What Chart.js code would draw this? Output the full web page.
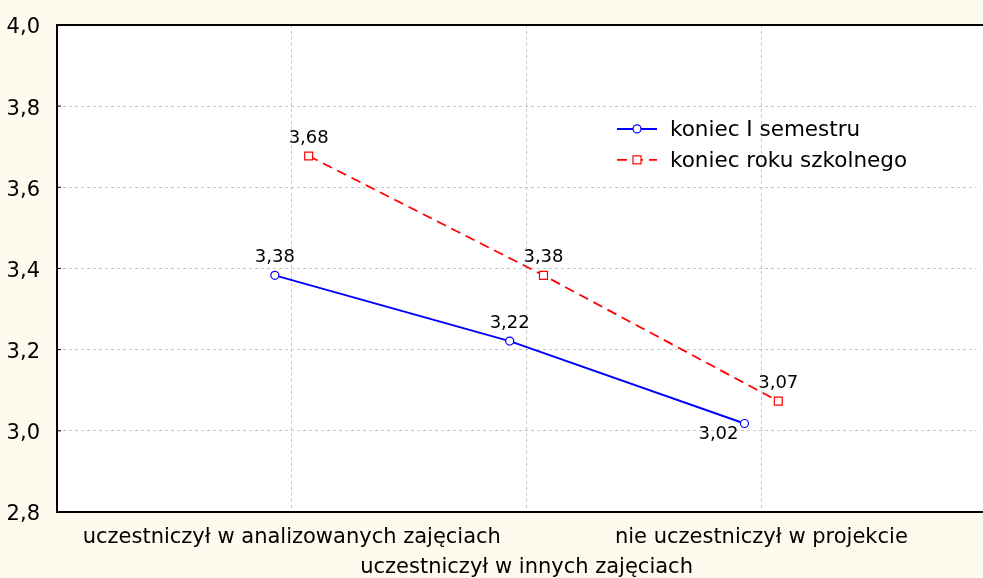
<!DOCTYPE html>
<html>
<head>
<meta charset="utf-8">
<script src="https://cdn.jsdelivr.net/npm/chart.js@4/dist/chart.umd.min.js"></script>
<style>
  html, body { margin: 0; padding: 0; background: #fffaee; }
  #wrap { width: 983px; height: 578px; }
</style>
</head>
<body>
<div id="wrap"><canvas id="chart" width="983" height="578"></canvas></div>
<script>
// data
const categories = ['uczestniczył w analizowanych zajęciach', 'uczestniczył w innych zajęciach', 'nie uczestniczył w projekcie'];
const seriesNames = ['koniec I semestru', 'koniec roku szkolnego'];
const semester = [3.383, 3.221, 3.018];
const yearEnd = [3.677, 3.383, 3.073];
const yTicks = [2.8, 3.0, 3.2, 3.4, 3.6, 3.8, 4.0];

const shift = 0.072; // the two series are drawn a little apart around each category
const fmt = v => v.toFixed(2).replace('.', ',');
const FONT = "'DejaVu Sans', Verdana, sans-serif";

function toPoints(vals, dx) {
  return vals.map((v, i) => ({ x: i + 1 + dx, y: v }));
}

const bgPlugin = {
  id: 'bg',
  beforeDraw(chart) {
    const { ctx, chartArea: a } = chart;
    ctx.save();
    ctx.fillStyle = '#fffaee';
    ctx.fillRect(0, 0, chart.width, chart.height);
    ctx.fillStyle = '#ffffff';
    ctx.fillRect(a.left, a.top, chart.width - a.left, a.bottom - a.top);
    ctx.restore();
  },
  afterDraw(chart) {
    const { ctx, chartArea: a } = chart;
    ctx.save();
    ctx.strokeStyle = '#000';
    ctx.lineWidth = 2;
    ctx.beginPath();
    ctx.moveTo(chart.width + 2, a.top);
    ctx.lineTo(a.left, a.top);
    ctx.lineTo(a.left, a.bottom);
    ctx.lineTo(chart.width + 2, a.bottom);
    ctx.stroke();
    // small inward tick marks on the value axis
    ctx.lineWidth = 1;
    const ys = chart.scales.y;
    yTicks.forEach(t => {
      const py = ys.getPixelForValue(t);
      ctx.beginPath();
      ctx.moveTo(a.left, py);
      ctx.lineTo(a.left + 4, py);
      ctx.stroke();
    });
    ctx.restore();
  }
};

// value labels next to the points
const labelPlugin = {
  id: 'vals',
  afterDatasetsDraw(chart) {
    const { ctx } = chart;
    ctx.save();
    ctx.font = '18px ' + FONT;
    ctx.fillStyle = '#000';
    ctx.textAlign = 'center';
    ctx.textBaseline = 'middle';
    chart.data.datasets.forEach((ds, di) => {
      chart.getDatasetMeta(di).data.forEach((pt, i) => {
        const v = ds.data[i].y;
        const below = ds.labelBelow && ds.labelBelow[i];
        if (below) ctx.fillText(fmt(v), pt.x - 26, pt.y + 11);
        else ctx.fillText(fmt(v), pt.x, pt.y - 18);
      });
    });
    ctx.restore();
  }
};

// legend inside the plot
const legendPlugin = {
  id: 'innerLegend',
  afterDraw(chart) {
    const { ctx, chartArea: a } = chart;
    const x0 = a.left + 560, y0 = a.top + 104, gap = 31;
    ctx.save();
    ctx.font = '21.5px ' + FONT;
    ctx.textBaseline = 'middle';
    chart.data.datasets.forEach((ds, i) => {
      const y = y0 + i * gap;
      ctx.strokeStyle = ds.borderColor;
      ctx.lineWidth = ds.borderWidth;
      ctx.setLineDash(ds.borderDash || []);
      ctx.beginPath();
      ctx.moveTo(x0, y);
      ctx.lineTo(x0 + 40, y);
      ctx.stroke();
      ctx.setLineDash([]);
      ctx.fillStyle = '#fff';
      ctx.lineWidth = 1.2;
      if (ds.pointStyle === 'rect') {
        ctx.fillRect(x0 + 16, y - 4, 8, 8);
        ctx.strokeRect(x0 + 16, y - 4, 8, 8);
      } else {
        ctx.beginPath();
        ctx.arc(x0 + 20, y, 4, 0, Math.PI * 2);
        ctx.fill();
        ctx.stroke();
      }
      ctx.fillStyle = '#000';
      ctx.fillText(ds.label, x0 + 53, y + 2);
    });
    ctx.restore();
  }
};

new Chart(document.getElementById('chart'), {
  type: 'line',
  data: {
    datasets: [
      {
        label: seriesNames[0],
        data: toPoints(semester, -shift),
        borderColor: '#0000ff',
        borderWidth: 2,
        pointStyle: 'circle',
        pointRadius: 4,
        pointBackgroundColor: '#fff',
        pointBorderColor: '#0000ff',
        pointBorderWidth: 1.2,
        labelBelow: [false, false, true]
      },
      {
        label: seriesNames[1],
        data: toPoints(yearEnd, shift),
        borderColor: '#ff0000',
        borderWidth: 1.8,
        borderDash: [10, 6],
        pointStyle: 'rect',
        pointRadius: 5.6,
        pointBackgroundColor: '#fff',
        pointBorderColor: '#ff0000',
        pointBorderWidth: 1.2
      }
    ]
  },
  options: {
    responsive: false,
    animation: false,
    layout: { padding: { top: 10, right: 0, left: 0, bottom: 0 } },
    plugins: { legend: { display: false }, tooltip: { enabled: false } },
    scales: {
      x: {
        type: 'linear',
        min: 0,
        max: 3.915,
        afterFit(s) { s.height = 66; },
        afterBuildTicks(s) { s.ticks = [0, 1, 2, 3].map(v => ({ value: v })); },
        ticks: {
          autoSkip: false,
          maxRotation: 0,
          padding: 11,
          color: '#000',
          font: { family: FONT, size: 21, lineHeight: 1.4 },
          callback: v => {
            if (v === 1 || v === 3) return categories[v - 1];
            if (v === 2) return ['', categories[1]];
            return '';
          }
        },
        grid: { color: '#c4c4c4', lineWidth: 1, drawTicks: false },
        border: { display: false, dash: [3, 3] }
      },
      y: {
        min: 2.8,
        max: 4.0,
        afterFit(s) { s.width = 57; },
        afterBuildTicks(s) { s.ticks = yTicks.map(v => ({ value: v })); },
        ticks: {
          padding: 17,
          labelOffset: 3,
          color: '#000',
          font: { family: FONT, size: 21, lineHeight: 0.75 },
          callback: v => v.toFixed(1).replace('.', ',')
        },
        grid: { color: '#c4c4c4', lineWidth: 1, drawTicks: false },
        border: { display: false, dash: [3, 3] }
      }
    }
  },
  plugins: [bgPlugin, labelPlugin, legendPlugin]
});
</script>
</body>
</html>
